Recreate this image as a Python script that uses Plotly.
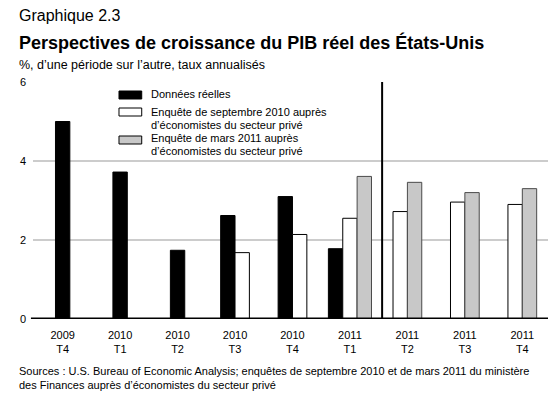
import plotly.graph_objects as go

categories = ["2009<br>T4", "2010<br>T1", "2010<br>T2", "2010<br>T3", "2010<br>T4",
              "2011<br>T1", "2011<br>T2", "2011<br>T3", "2011<br>T4"]
actual = [5.0, 3.72, 1.74, 2.62, 3.1, 1.78, None, None, None]
survey_sep2010 = [None, None, None, 1.68, 2.14, 2.55, 2.72, 2.96, 2.9]
survey_mar2011 = [None, None, None, None, None, 3.61, 3.46, 3.2, 3.3]
yticks = [0, 2, 4, 6]

series = [
    (["Données réelles"], actual, "#000000", "#000000"),
    (["Enquête de septembre 2010 auprès", "d’économistes du secteur privé"], survey_sep2010, "#ffffff", "#000000"),
    (["Enquête de mars 2011 auprès", "d’économistes du secteur privé"], survey_mar2011, "#c8c8c8", "#4a4a4a"),
]

BW = 0.25
FONT = "Liberation Sans, Arial, Helvetica, sans-serif"

# centre present bars within each category
xs = [[] for _ in series]
for i in range(len(categories)):
    present = [k for k, s in enumerate(series) if s[1][i] is not None]
    n = len(present)
    for j, k in enumerate(present):
        xs[k].append((i, i + (j - (n - 1) / 2) * BW))

fig = go.Figure()
for k, (name, vals, fill, line) in enumerate(series):
    fig.add_trace(go.Bar(
        x=[p for _, p in xs[k]],
        y=[vals[i] for i, _ in xs[k]],
        width=BW,
        name=" ".join(name),
        marker=dict(color=fill, line=dict(color=line, width=1)),
        showlegend=False,
    ))

# separator line between actual and forecast
fig.add_shape(type="line", xref="x", yref="y", x0=5.56, x1=5.56, y0=0, y1=6,
              line=dict(color="black", width=2))
# zero line
fig.add_shape(type="line", xref="paper", yref="y", x0=-0.004, x1=1, y0=0, y1=0,
              line=dict(color="black", width=3))

# manual legend (positions given in page pixels, mapped to paper coords)
def px_x(p):
    return (p - 27) / 521

def px_y(p):
    return (319 - p) / 237

leg_items = [(95, [94]), (112, [112, 125]), (140, [138, 151])]
for (name, vals, fill, line), (sq_y, line_ys) in zip(series, leg_items):
    fig.add_shape(type="rect", xref="paper", yref="paper",
                  x0=px_x(114), x1=px_x(137), y0=px_y(sq_y + 4), y1=px_y(sq_y - 4),
                  fillcolor=fill, line=dict(color="black", width=1))
    for txt, ly in zip(name, line_ys):
        fig.add_annotation(xref="paper", yref="paper", x=px_x(144), y=px_y(ly),
                           text=txt, showarrow=False, xanchor="left", yanchor="middle",
                           font=dict(family=FONT, size=11, color="black"))

# titles
fig.add_annotation(xref="paper", yref="paper", x=px_x(11), y=px_y(5), text="Graphique 2.3",
                   showarrow=False, xanchor="left", yanchor="top",
                   font=dict(family=FONT, size=16, color="black"))
fig.add_annotation(xref="paper", yref="paper", x=px_x(11), y=px_y(30),
                   text="<b>Perspectives de croissance du PIB réel des États-Unis</b>",
                   showarrow=False, xanchor="left", yanchor="top",
                   font=dict(family=FONT, size=18, color="black"))
fig.add_annotation(xref="paper", yref="paper", x=px_x(11), y=px_y(56),
                   text="%, d’une période sur l’autre, taux annualisés",
                   showarrow=False, xanchor="left", yanchor="top",
                   font=dict(family=FONT, size=12.5, color="black"))
fig.add_annotation(xref="paper", yref="paper", x=px_x(11), y=px_y(363),
                   text="Sources : U.S. Bureau of Economic Analysis; enquêtes de septembre 2010 et de mars 2011 du ministère<br>des Finances auprès d’économistes du secteur privé",
                   showarrow=False, xanchor="left", yanchor="top", align="left",
                   font=dict(family=FONT, size=11, color="black"))

fig.update_layout(
    width=552, height=390,
    margin=dict(l=19, r=12, t=74, b=79),
    paper_bgcolor="white", plot_bgcolor="white",
    barmode="overlay",
    font=dict(family=FONT, size=11, color="black"),
    xaxis=dict(range=[-0.516, 8.447], tickvals=list(range(len(categories))),
               ticktext=categories, showgrid=False, zeroline=False, showline=False,
               ticks="", ticklabelstandoff=8, tickfont=dict(size=11)),
    yaxis=dict(range=[0, 6], tickvals=yticks, showgrid=True, gridcolor="#cccccc",
               gridwidth=1.5, zeroline=False, showline=False, ticks="",
               ticklabelstandoff=6, tickfont=dict(size=11)),
)

fig.write_html("out.html")
